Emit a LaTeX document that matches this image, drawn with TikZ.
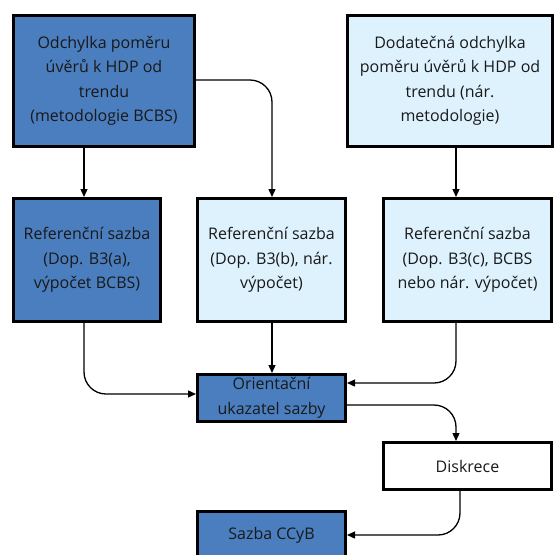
\documentclass[tikz,border=0pt]{standalone}
\usepackage{fontspec}
\setmainfont{Open Sans}
\usetikzlibrary{arrows.meta}
\definecolor{darkbox}{RGB}{74,126,191}
\definecolor{lightbox}{RGB}{221,242,253}
\begin{document}
\begin{tikzpicture}[x=1pt,y=-1pt,
    box/.style={draw=black, line width=3pt, align=center, inner sep=0pt,
        font=\fontsize{16}{24.5}\selectfont, text=black!90},
    dark/.style={box, fill=darkbox},
    light/.style={box, fill=lightbox},
    plain/.style={box, fill=white},
    link/.style={-{Triangle[length=8pt,width=7pt]}, line width=1.3pt, rounded corners=22pt}]
    \useasboundingbox (0,0) rectangle (554,555);

    \coordinate (colL) at (84,0);
    \coordinate (colM) at (272,0);
    \coordinate (colR) at (456,0);
    \coordinate (colG) at (460,0);

    \node[dark, minimum width=181pt, minimum height=131pt] (A) at (104,81)
        {Odchylka poměru\\úvěrů k HDP od\\trendu\\(metodologie BCBS)};
    \node[light, minimum width=205pt, minimum height=131pt] (B) at (450,81)
        {Dodatečná odchylka\\poměru úvěrů k HDP od\\trendu (nár.\\metodologie)};
    \node[dark, minimum width=147pt, minimum height=123pt] (C) at (87,260)
        {Referenční sazba\\(Dop. B3(a),\\výpočet BCBS)};
    \node[light, minimum width=148pt, minimum height=123pt] (D) at (271.5,260)
        {Referenční sazba\\(Dop. B3(b), nár.\\výpočet)};
    \node[light, minimum width=168pt, minimum height=123pt] (E) at (467.5,260)
        {Referenční sazba\\(Dop. B3(c), BCBS\\nebo nár. výpočet)};
    \node[dark, minimum width=148pt, minimum height=47pt] (F) at (271.5,398)
        {Orientační\\ukazatel sazby};
    \node[plain, minimum width=168pt, minimum height=47pt] (G) at (467.5,466)
        {Diskrece};
    \node[dark, minimum width=148pt, minimum height=47pt] (H) at (271.5,535)
        {Sazba CCyB};

    \draw[link] (A.south -| colL) -- (C.north -| colL);
    \draw[link] ([yshift=1pt]A.east) -| (D.north -| colM);
    \draw[link] (B.south -| colR) -- (E.north -| colR);
    \draw[link] (C.south -| colL) |- ([yshift=4pt]F.west);
    \draw[link] (D.south -| colM) -- (F.north -| colM);
    \draw[link] (E.south -| colR) |- ([yshift=15pt]F.east);
    \draw[link] ([yshift=-7pt]F.east) -| (G.north -| colR);
    \draw[link] (G.south -| colG) |- (H.east);
\end{tikzpicture}
\end{document}
